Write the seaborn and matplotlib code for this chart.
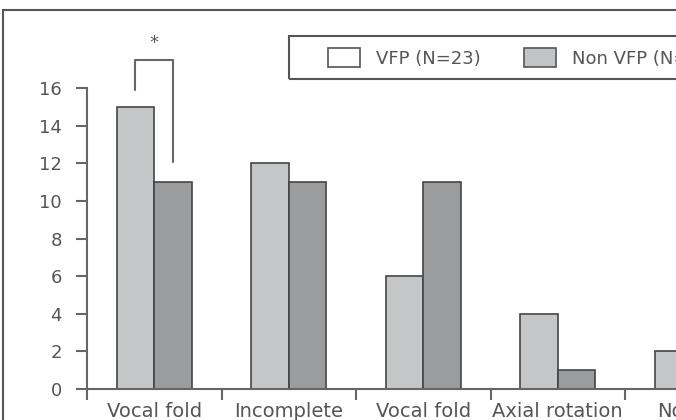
import numpy as np
import pandas as pd
import matplotlib
matplotlib.use("Agg")
import matplotlib.pyplot as plt
import seaborn as sns
from matplotlib.patches import Patch, Rectangle

# Data (chart is cropped on the right / bottom)
categories = ["Vocal fold", "Incomplete", "Vocal fold", "Axial rotation", "Normal"]
vfp = [15, 12, 6, 4, 2]
non_vfp = [11, 11, 11, 1, 2]
groups = ["VFP (N=23)", "Non VFP (N=30)"]
yticks = [0, 2, 4, 6, 8, 10, 12, 14, 16]

df = pd.DataFrame({
    "pos": list(range(len(categories))) * 2,
    "count": vfp + non_vfp,
    "group": [groups[0]] * len(vfp) + [groups[1]] * len(non_vfp),
})

sns.set_style("white")
plt.rcParams["font.family"] = ["DejaVu Sans"]
text_col = "#555555"
line_col = "#666666"

fig = plt.figure(figsize=(6.76, 4.2), dpi=100)
ax = fig.add_axes([87 / 676, 31 / 420, 589 / 676, 389 / 420])

sns.barplot(data=df, x="pos", y="count", hue="group", palette=["#c5c6c8", "#9b9c9e"],
            width=0.56, saturation=1, edgecolor="#454545", linewidth=1.2,
            legend=False, ax=ax)

ax.set_xlim(-0.5, -0.5 + 589 / 134.5)
ax.set_ylim(0, 389 / 18.8)
ax.set_xlabel("")
ax.set_ylabel("")

# axes styling
ax.spines["top"].set_visible(False)
ax.spines["right"].set_visible(False)
ax.spines["left"].set_bounds(0, 16)
for s in ("left", "bottom"):
    ax.spines[s].set_color(line_col)
    ax.spines[s].set_linewidth(1.5)

ax.set_yticks(yticks)
ax.set_yticklabels([str(t) for t in yticks])
ax.tick_params(axis="y", direction="out", length=8, width=1.5, color=line_col,
               pad=10, labelsize=13, labelcolor=text_col, left=True)

bounds = np.arange(len(categories)) - 0.5
ax.set_xticks(bounds)
ax.set_xticklabels([""] * len(bounds))
ax.tick_params(axis="x", direction="out", length=8, width=1.5, color=line_col, bottom=True)

for i, lab in enumerate(categories):
    ax.text(i, -0.7, lab, ha="center", va="top", fontsize=14, color=text_col, clip_on=False)

# significance bracket on first group
off = 0.14
top = max(vfp[0], non_vfp[0]) + 2.5
ax.plot([-off, -off, off, off], [vfp[0] + 0.9, top, top, non_vfp[0] + 1.1],
        color=line_col, lw=1.5, clip_on=False)
ax.text(0, top + 0.4, "*", ha="center", va="bottom", fontsize=13, color=text_col)

# legend box (drawn separately so the left padding matches the original)
fig.patches.append(Rectangle((289 / 676, 1 - 79 / 420), 0.8, 43 / 420, transform=fig.transFigure,
                             fill=False, edgecolor="#555555", lw=1.5))
handles = [Patch(facecolor="white", edgecolor="#555555", lw=1.2),
           Patch(facecolor="#c2c3c5", edgecolor="#555555", lw=1.2)]
fig.legend(handles, groups, ncol=2, loc="center left",
           bbox_to_anchor=(328 / 676, 1 - 58 / 420), frameon=False,
           fontsize=13, labelcolor=text_col, handlelength=1.75, handleheight=1.2,
           handletextpad=0.9, columnspacing=2.4, borderpad=0, borderaxespad=0)

# outer frame of the figure panel
fig.patches.append(Rectangle((3 / 676, -0.2), 1.2, 1.2 - 10 / 420, transform=fig.transFigure,
                             fill=False, edgecolor="#555555", lw=1.5))

fig.savefig("out.png", dpi=100)
